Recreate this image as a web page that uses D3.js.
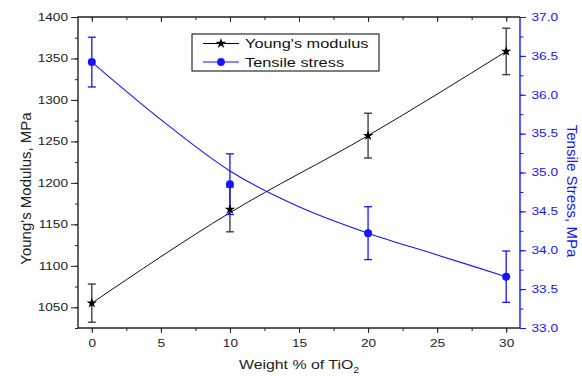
<!DOCTYPE html>
<html lang="en">
<head>
<meta charset="UTF-8">
<script src="https://d3js.org/d3.v7.min.js"></script>
<style>
  body { margin: 0; background: #fff; }
  svg { display: block; font-family: "Liberation Sans", Arial, sans-serif; }
</style>
</head>
<body>
<svg id="chart" width="582" height="376"></svg>
<script>
// --- data ---
const wtPct = [0, 10, 20, 30];
const youngs = [1055, 1168, 1257, 1358.5];
const youngsErr = [23, 27, 27, 28];
const tensile = [36.42, 34.85, 34.22, 33.66];
const tensileErr = [0.32, 0.39, 0.34, 0.33];

// smooth fit lines as drawn in the picture
const youngsFitX = [0, 10, 20, 30];
const youngsFit = [1055, 1164, 1257, 1358.5];
const tensileFitX = [0, 5, 10, 15, 20, 25, 30];
const tensileFit = [36.42, 35.68, 35.02, 34.56, 34.22, 33.94, 33.66];

const xTicks = [0, 5, 10, 15, 20, 25, 30];
const leftTicks = [1050, 1100, 1150, 1200, 1250, 1300, 1350, 1400];
const rightTicks = [33.0, 33.5, 34.0, 34.5, 35.0, 35.5, 36.0, 36.5, 37.0];

const BLUE = "#1414ff";
const INK = "#222";
const SX = 1.3; // the picture's text is stretched sideways

const svg = d3.select("#chart");
const pl = 78, pr = 520, pt = 17, pb = 328;

const x = d3.scaleLinear().domain([-1, 31]).range([pl, pr]);
const yL = d3.scaleLinear().domain([1025, 1400]).range([pb, pt]);
const yR = d3.scaleLinear().domain([33, 37]).range([pb, pt]);

// minor ticks first (no labels)
const minorX = d3.range(0, 31, 2.5);
const minorL = d3.range(1025, 1401, 25);
const minorR = d3.range(33, 37.01, 0.25);

function noLabels(g) { g.selectAll("text").remove(); g.select(".domain").remove(); }

svg.append("g").attr("transform", `translate(0,${pb})`)
  .call(d3.axisBottom(x).tickValues(minorX).tickSize(3).tickSizeOuter(0)).call(noLabels)
  .selectAll("line").attr("stroke", INK);
svg.append("g").attr("transform", `translate(0,${pt})`)
  .call(d3.axisTop(x).tickValues(minorX).tickSize(-3).tickSizeOuter(0)).call(noLabels)
  .selectAll("line").attr("stroke", INK);
svg.append("g").attr("transform", `translate(${pl},0)`)
  .call(d3.axisLeft(yL).tickValues(minorL).tickSize(3).tickSizeOuter(0)).call(noLabels)
  .selectAll("line").attr("stroke", INK);
svg.append("g").attr("transform", `translate(${pr},0)`)
  .call(d3.axisRight(yR).tickValues(minorR).tickSize(3.5).tickSizeOuter(0)).call(noLabels)
  .selectAll("line").attr("stroke", BLUE);

// major axes
const gx = svg.append("g").attr("transform", `translate(0,${pb})`)
  .call(d3.axisBottom(x).tickValues(xTicks).tickSize(5).tickSizeOuter(0));
svg.append("g").attr("transform", `translate(0,${pt})`)
  .call(d3.axisTop(x).tickValues(xTicks).tickSize(-5).tickSizeOuter(0)).call(noLabels)
  .selectAll("line").attr("stroke", INK);
const gl = svg.append("g").attr("transform", `translate(${pl},0)`)
  .call(d3.axisLeft(yL).tickValues(leftTicks).tickFormat(d3.format("d")).tickSize(7).tickSizeOuter(0));
const gr = svg.append("g").attr("transform", `translate(${pr},0)`)
  .call(d3.axisRight(yR).tickValues(rightTicks).tickFormat(d3.format(".1f")).tickSize(6).tickSizeOuter(0));

[gx, gl, gr].forEach(g => {
  g.select(".domain").remove();
  g.selectAll("line").attr("stroke", INK).attr("stroke-width", 1);
  g.selectAll("text").attr("font-size", 10.5).attr("fill", INK)
    .attr("font-family", "'Liberation Sans', Arial, sans-serif");
});
gx.selectAll("text").attr("y", 11.5).attr("transform", `scale(${SX},1)`);
gl.selectAll("text").attr("x", -10 / SX).attr("transform", `scale(${SX},1)`);
gr.selectAll("line").attr("stroke", BLUE);
gr.selectAll("text").attr("x", 11.5 / SX).attr("fill", BLUE).attr("transform", `scale(${SX},1)`);

// frame
svg.append("path").attr("d", `M${pr},${pt}H${pl}V${pb}H${pr}`)
  .attr("fill", "none").attr("stroke", INK).attr("stroke-width", 1.4);
svg.append("line").attr("x1", pr).attr("x2", pr).attr("y1", pt).attr("y2", pb)
  .attr("stroke", BLUE).attr("stroke-width", 1.4);

// fit lines
const lineL = d3.line().x((d, i) => x(youngsFitX[i])).y(d => yL(d)).curve(d3.curveMonotoneX);
const lineR = d3.line().x((d, i) => x(tensileFitX[i])).y(d => yR(d)).curve(d3.curveMonotoneX);
svg.append("path").attr("d", lineL(youngsFit)).attr("fill", "none").attr("stroke", "#111").attr("stroke-width", 1);
svg.append("path").attr("d", lineR(tensileFit)).attr("fill", "none").attr("stroke", BLUE).attr("stroke-width", 1.1);

// error bars
function errBars(vals, errs, y, color) {
  const g = svg.append("g").attr("stroke", color).attr("stroke-width", 1.3);
  wtPct.forEach((w, i) => {
    const cx = x(w), y1 = y(vals[i] + errs[i]), y2 = y(vals[i] - errs[i]);
    g.append("line").attr("x1", cx).attr("x2", cx).attr("y1", y1).attr("y2", y2);
    g.append("line").attr("x1", cx - 4).attr("x2", cx + 4).attr("y1", y1).attr("y2", y1);
    g.append("line").attr("x1", cx - 4).attr("x2", cx + 4).attr("y1", y2).attr("y2", y2);
  });
}
errBars(youngs, youngsErr, yL, "#333");
errBars(tensile, tensileErr, yR, BLUE);

// markers
const star = d3.symbol().type(d3.symbolStar).size(34);
svg.append("g").selectAll("path").data(youngs).join("path")
  .attr("d", star).attr("fill", "#000")
  .attr("transform", (d, i) => `translate(${x(wtPct[i])},${yL(d)})`);
svg.append("g").selectAll("circle").data(tensile).join("circle")
  .attr("cx", (d, i) => x(wtPct[i])).attr("cy", d => yR(d)).attr("r", 4).attr("fill", BLUE);

// legend
const lg = svg.append("g");
lg.append("rect").attr("x", 192).attr("y", 34).attr("width", 187).attr("height", 37)
  .attr("fill", "#fff").attr("stroke", "#000").attr("stroke-width", 1);
const legendItems = [
  { label: "Young's modulus", color: "#000", mark: "star", y: 43.5 },
  { label: "Tensile stress", color: BLUE, mark: "circle", y: 62 }
];
legendItems.forEach(it => {
  lg.append("line").attr("x1", 203).attr("x2", 239).attr("y1", it.y).attr("y2", it.y)
    .attr("stroke", it.color).attr("stroke-width", 1);
  if (it.mark === "star") {
    lg.append("path").attr("d", star).attr("fill", "#000").attr("transform", `translate(221,${it.y})`);
  } else {
    lg.append("circle").attr("cx", 221).attr("cy", it.y).attr("r", 3.9).attr("fill", BLUE);
  }
  lg.append("text").attr("x", 245 / 1.26).attr("y", it.y + 4.8).attr("transform", "scale(1.26,1)")
    .attr("font-size", 13).attr("fill", "#111").text(it.label);
});

// axis titles
const xt = svg.append("text").attr("x", 299 / 1.22).attr("y", 369).attr("transform", "scale(1.22,1)")
  .attr("text-anchor", "middle").attr("font-size", 13).attr("fill", INK);
xt.append("tspan").text("Weight % of TiO");
xt.append("tspan").attr("font-size", 8.5).attr("dy", 4).text("2");

svg.append("text").attr("transform", "translate(31,188.5) rotate(-90)")
  .attr("text-anchor", "middle").attr("font-size", 15).attr("fill", INK)
  .text("Young's Modulus, MPa");
svg.append("text").attr("transform", "translate(567,191) rotate(90)")
  .attr("text-anchor", "middle").attr("font-size", 15).attr("fill", BLUE)
  .text("Tensile Stress, MPa");
</script>
</body>
</html>
